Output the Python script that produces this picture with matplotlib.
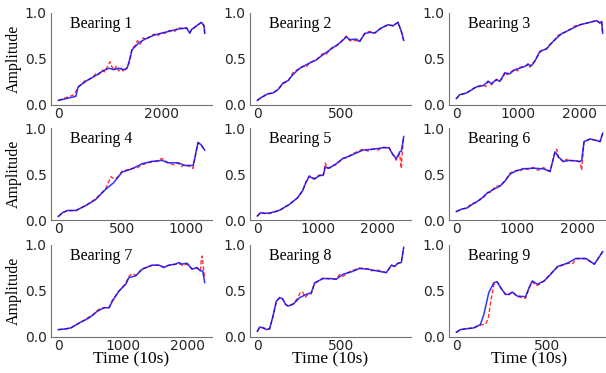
import matplotlib.pyplot as plt

# ---- data (time in units of 10 s, amplitude) ----
# bearing 1
t1 = [0, 339, 383, 530, 722, 850, 978, 1073, 1169, 1265, 1329, 1361, 1425, 1553, 1680, 1872, 2064, 2319, 2479, 2543, 2575, 2703, 2767, 2818, 2830]
a1 = [0.05, 0.094, 0.196, 0.257, 0.32, 0.366, 0.40, 0.384, 0.40, 0.384, 0.40, 0.456, 0.60, 0.674, 0.717, 0.764, 0.79, 0.826, 0.837, 0.78, 0.82, 0.873, 0.898, 0.862, 0.78]
rt1 = [0, 150, 300, 383, 450, 530, 600, 680, 722, 780, 850, 900, 950, 1000, 1040, 1080, 1120, 1170, 1220, 1265, 1329, 1380, 1425, 1480, 1530, 1580, 1640, 1700, 1780, 1850, 1920, 2000, 2064, 2150, 2250, 2320, 2420, 2480, 2543, 2580, 2700, 2767, 2818, 2830]
ra1 = [0.05, 0.08, 0.11, 0.19, 0.23, 0.27, 0.28, 0.31, 0.34, 0.33, 0.38, 0.36, 0.42, 0.47, 0.41, 0.38, 0.42, 0.37, 0.40, 0.36, 0.41, 0.47, 0.62, 0.64, 0.70, 0.66, 0.73, 0.71, 0.75, 0.77, 0.75, 0.79, 0.78, 0.81, 0.80, 0.84, 0.83, 0.84, 0.79, 0.82, 0.87, 0.90, 0.86, 0.78]

# bearing 2
t2 = [0, 24, 63, 93, 123, 153, 183, 212, 252, 312, 351, 391, 441, 490, 530, 550, 589, 609, 639, 669, 698, 738, 778, 808, 837, 857, 871]
a2 = [0.05, 0.083, 0.123, 0.13, 0.167, 0.24, 0.265, 0.33, 0.40, 0.457, 0.49, 0.547, 0.61, 0.674, 0.74, 0.71, 0.717, 0.69, 0.775, 0.79, 0.783, 0.837, 0.873, 0.862, 0.898, 0.80, 0.703]
rt2 = [0, 24, 63, 93, 123, 153, 170, 183, 212, 235, 252, 270, 290, 312, 351, 391, 410, 441, 470, 490, 530, 550, 589, 609, 639, 669, 698, 738, 778, 808, 837, 857, 871]
ra2 = [0.05, 0.08, 0.12, 0.13, 0.17, 0.23, 0.25, 0.26, 0.35, 0.38, 0.39, 0.42, 0.41, 0.46, 0.49, 0.56, 0.55, 0.62, 0.64, 0.67, 0.75, 0.70, 0.70, 0.69, 0.78, 0.80, 0.78, 0.84, 0.87, 0.86, 0.90, 0.80, 0.70]

# bearing 3
t3 = [0, 54, 162, 324, 432, 514, 568, 649, 703, 784, 865, 946, 1027, 1108, 1162, 1216, 1270, 1351, 1459, 1568, 1703, 1838, 2000, 2162, 2270, 2324, 2351, 2368]
a3 = [0.07, 0.112, 0.13, 0.196, 0.21, 0.257, 0.232, 0.275, 0.257, 0.348, 0.34, 0.384, 0.40, 0.42, 0.438, 0.428, 0.475, 0.583, 0.61, 0.692, 0.775, 0.819, 0.873, 0.898, 0.917, 0.891, 0.909, 0.78]
rt3 = [0, 54, 162, 324, 432, 480, 514, 568, 649, 703, 760, 784, 820, 865, 946, 990, 1027, 1108, 1162, 1190, 1216, 1270, 1351, 1400, 1459, 1500, 1568, 1650, 1703, 1838, 1920, 2000, 2162, 2270, 2324, 2351, 2368]
ra3 = [0.07, 0.11, 0.13, 0.20, 0.22, 0.20, 0.26, 0.22, 0.28, 0.26, 0.30, 0.36, 0.33, 0.35, 0.39, 0.37, 0.41, 0.42, 0.45, 0.41, 0.44, 0.48, 0.57, 0.60, 0.61, 0.65, 0.69, 0.76, 0.77, 0.82, 0.86, 0.87, 0.90, 0.92, 0.89, 0.91, 0.78]

# bearing 4
t4 = [0, 34, 72, 137, 214, 291, 369, 433, 497, 575, 652, 729, 807, 858, 935, 987, 1051, 1064, 1090, 1116, 1142]
a4 = [0.037, 0.081, 0.104, 0.104, 0.156, 0.222, 0.333, 0.407, 0.52, 0.556, 0.611, 0.637, 0.648, 0.622, 0.622, 0.593, 0.593, 0.667, 0.844, 0.815, 0.759]
rt4 = [0, 34, 72, 137, 214, 260, 291, 369, 410, 433, 460, 497, 575, 620, 652, 700, 729, 780, 807, 858, 900, 935, 960, 987, 1030, 1051, 1064, 1090, 1116, 1142]
ra4 = [0.04, 0.08, 0.10, 0.10, 0.16, 0.20, 0.23, 0.34, 0.47, 0.45, 0.46, 0.53, 0.56, 0.57, 0.60, 0.62, 0.63, 0.64, 0.67, 0.62, 0.60, 0.62, 0.58, 0.60, 0.58, 0.56, 0.66, 0.84, 0.81, 0.76]

# bearing 5
t5 = [0, 56, 111, 194, 361, 528, 667, 750, 806, 861, 944, 1028, 1094, 1128, 1194, 1306, 1417, 1583, 1750, 1917, 2083, 2183, 2239, 2306, 2361, 2389, 2428]
a5 = [0.044, 0.081, 0.074, 0.074, 0.104, 0.167, 0.241, 0.315, 0.407, 0.474, 0.444, 0.48, 0.489, 0.574, 0.563, 0.611, 0.667, 0.711, 0.759, 0.77, 0.785, 0.785, 0.722, 0.667, 0.74, 0.748, 0.907]
rt5 = [0, 56, 111, 194, 361, 528, 667, 750, 806, 861, 944, 1028, 1094, 1128, 1160, 1194, 1250, 1306, 1417, 1500, 1583, 1650, 1750, 1830, 1917, 2000, 2083, 2183, 2239, 2306, 2361, 2389, 2400, 2428]
ra5 = [0.04, 0.08, 0.07, 0.07, 0.10, 0.17, 0.24, 0.32, 0.41, 0.48, 0.45, 0.49, 0.48, 0.62, 0.56, 0.57, 0.59, 0.60, 0.67, 0.68, 0.72, 0.74, 0.77, 0.75, 0.77, 0.76, 0.79, 0.79, 0.72, 0.65, 0.72, 0.56, 0.70, 0.90]

# bearing 6
t6 = [0, 93, 176, 258, 396, 505, 615, 725, 808, 890, 1000, 1110, 1275, 1440, 1549, 1632, 1687, 1769, 1879, 2044, 2071, 2110, 2209, 2346, 2374, 2418]
a6 = [0.093, 0.119, 0.13, 0.167, 0.222, 0.289, 0.333, 0.37, 0.426, 0.50, 0.537, 0.556, 0.563, 0.556, 0.526, 0.741, 0.685, 0.637, 0.648, 0.637, 0.648, 0.852, 0.881, 0.859, 0.852, 0.944]
rt6 = [0, 93, 176, 258, 330, 396, 460, 505, 560, 615, 660, 725, 808, 890, 950, 1000, 1060, 1110, 1180, 1275, 1350, 1440, 1549, 1632, 1660, 1687, 1769, 1820, 1879, 1960, 2044, 2071, 2090, 2110, 2209, 2346, 2374, 2418]
ra6 = [0.09, 0.12, 0.13, 0.18, 0.19, 0.23, 0.25, 0.30, 0.30, 0.34, 0.37, 0.37, 0.43, 0.51, 0.53, 0.54, 0.53, 0.57, 0.55, 0.57, 0.54, 0.57, 0.53, 0.75, 0.77, 0.68, 0.63, 0.66, 0.64, 0.65, 0.63, 0.54, 0.70, 0.85, 0.88, 0.86, 0.85, 0.94]

# bearing 7
t7 = [0, 118, 195, 323, 477, 605, 708, 785, 836, 938, 1041, 1092, 1195, 1297, 1451, 1554, 1631, 1708, 1810, 1862, 1913, 1990, 2067, 2144, 2195, 2231, 2262]
a7 = [0.08, 0.088, 0.099, 0.153, 0.208, 0.281, 0.318, 0.318, 0.39, 0.50, 0.573, 0.646, 0.664, 0.737, 0.781, 0.781, 0.755, 0.781, 0.792, 0.81, 0.792, 0.803, 0.737, 0.755, 0.719, 0.719, 0.591]
rt7 = [0, 118, 195, 323, 400, 477, 540, 605, 660, 708, 785, 836, 938, 1041, 1092, 1140, 1195, 1297, 1451, 1554, 1631, 1708, 1810, 1862, 1913, 1990, 2067, 2144, 2195, 2210, 2225, 2240, 2262]
ra7 = [0.08, 0.09, 0.10, 0.15, 0.18, 0.22, 0.24, 0.29, 0.31, 0.32, 0.32, 0.40, 0.50, 0.58, 0.66, 0.69, 0.67, 0.74, 0.78, 0.78, 0.76, 0.78, 0.79, 0.80, 0.78, 0.79, 0.74, 0.75, 0.72, 0.85, 0.88, 0.76, 0.64]

# bearing 8
t8 = [0, 14, 34, 54, 73, 93, 113, 133, 149, 169, 183, 212, 252, 292, 321, 341, 391, 440, 470, 510, 560, 609, 659, 708, 768, 798, 817, 837, 857, 871]
a8 = [0.062, 0.109, 0.099, 0.08, 0.088, 0.226, 0.39, 0.427, 0.416, 0.354, 0.336, 0.354, 0.427, 0.464, 0.48, 0.59, 0.635, 0.635, 0.628, 0.682, 0.708, 0.745, 0.737, 0.719, 0.70, 0.781, 0.766, 0.803, 0.81, 0.975]
rt8 = [0, 14, 34, 54, 73, 93, 113, 133, 149, 169, 183, 212, 240, 255, 270, 285, 300, 321, 341, 391, 440, 470, 490, 510, 540, 560, 609, 659, 680, 708, 768, 798, 817, 837, 857, 871]
ra8 = [0.06, 0.10, 0.10, 0.09, 0.09, 0.22, 0.38, 0.43, 0.42, 0.35, 0.34, 0.36, 0.42, 0.48, 0.49, 0.43, 0.46, 0.47, 0.58, 0.64, 0.63, 0.63, 0.68, 0.66, 0.70, 0.72, 0.75, 0.74, 0.72, 0.73, 0.70, 0.78, 0.77, 0.80, 0.81, 0.97]

# bearing 9
t9 = [0, 22, 59, 96, 132, 151, 178, 206, 224, 243, 270, 289, 307, 334, 380, 399, 417, 445, 482, 518, 555, 610, 656, 711, 757, 776, 803]
a9 = [0.051, 0.08, 0.091, 0.099, 0.135, 0.245, 0.482, 0.591, 0.599, 0.536, 0.464, 0.464, 0.489, 0.445, 0.438, 0.536, 0.61, 0.573, 0.61, 0.682, 0.766, 0.803, 0.854, 0.854, 0.792, 0.847, 0.927]
rt9 = [0, 22, 59, 96, 132, 160, 175, 190, 206, 224, 243, 270, 289, 307, 334, 380, 399, 417, 430, 445, 482, 518, 555, 610, 640, 656, 711, 757, 776, 803]
ra9 = [0.05, 0.08, 0.09, 0.10, 0.13, 0.14, 0.20, 0.40, 0.57, 0.60, 0.54, 0.46, 0.46, 0.49, 0.44, 0.42, 0.53, 0.60, 0.57, 0.56, 0.61, 0.69, 0.76, 0.80, 0.80, 0.85, 0.85, 0.79, 0.85, 0.93]

blue_t = [t1, t2, t3, t4, t5, t6, t7, t8, t9]
blue_a = [a1, a2, a3, a4, a5, a6, a7, a8, a9]
red_t = [rt1, rt2, rt3, rt4, rt5, rt6, rt7, rt8, rt9]
red_a = [ra1, ra2, ra3, ra4, ra5, ra6, ra7, ra8, ra9]
xticks = [[0, 2000], [0, 500], [0, 1000, 2000],
          [0, 500, 1000], [0, 1000, 2000], [0, 1000, 2000],
          [0, 1000, 2000], [0, 500], [0, 500]]
titles = ["Bearing %d" % (i + 1) for i in range(9)]

serif = "Liberation Serif"

fig = plt.figure(figsize=(6.06, 3.73), dpi=100)
lefts = [51, 250, 449]
bottoms = [268, 153, 36]
w, h = 161, 92

for i in range(9):
    r, c = i // 3, i % 3
    ax = fig.add_axes([lefts[c] / 606, bottoms[r] / 373, w / 606, h / 373])
    ax.plot(red_t[i], red_a[i], color="red", ls="--", lw=1.0, alpha=0.8, dashes=(3, 1.5))
    ax.plot(blue_t[i], blue_a[i], color="blue", lw=1.1, alpha=0.8)
    ax.set_ylim(0, 1)
    ax.set_yticks([0, 0.5, 1.0])
    ax.set_yticklabels(["0.0", "0.5", "1.0"])
    ax.set_xticks(xticks[i])
    ax.tick_params(labelsize=10, colors="0.15", length=0)
    ax.tick_params(axis="y", pad=3)
    ax.tick_params(axis="x", pad=1.5)
    for s in ["top", "right"]:
        ax.spines[s].set_visible(False)
    for s in ["left", "bottom"]:
        ax.spines[s].set_color("0.45")
        ax.spines[s].set_linewidth(0.8)
    ax.text(0.12, 0.88, titles[i], transform=ax.transAxes, va="center",
            fontsize=11.5, family=serif)
    if c == 0:
        ax.set_ylabel("Amplitude", fontsize=11.5, family=serif, labelpad=2)
    if r == 2:
        ax.set_xlabel("Time (10s)", fontsize=12.5, family=serif, labelpad=-1)

fig.savefig("out.png", dpi=100)
